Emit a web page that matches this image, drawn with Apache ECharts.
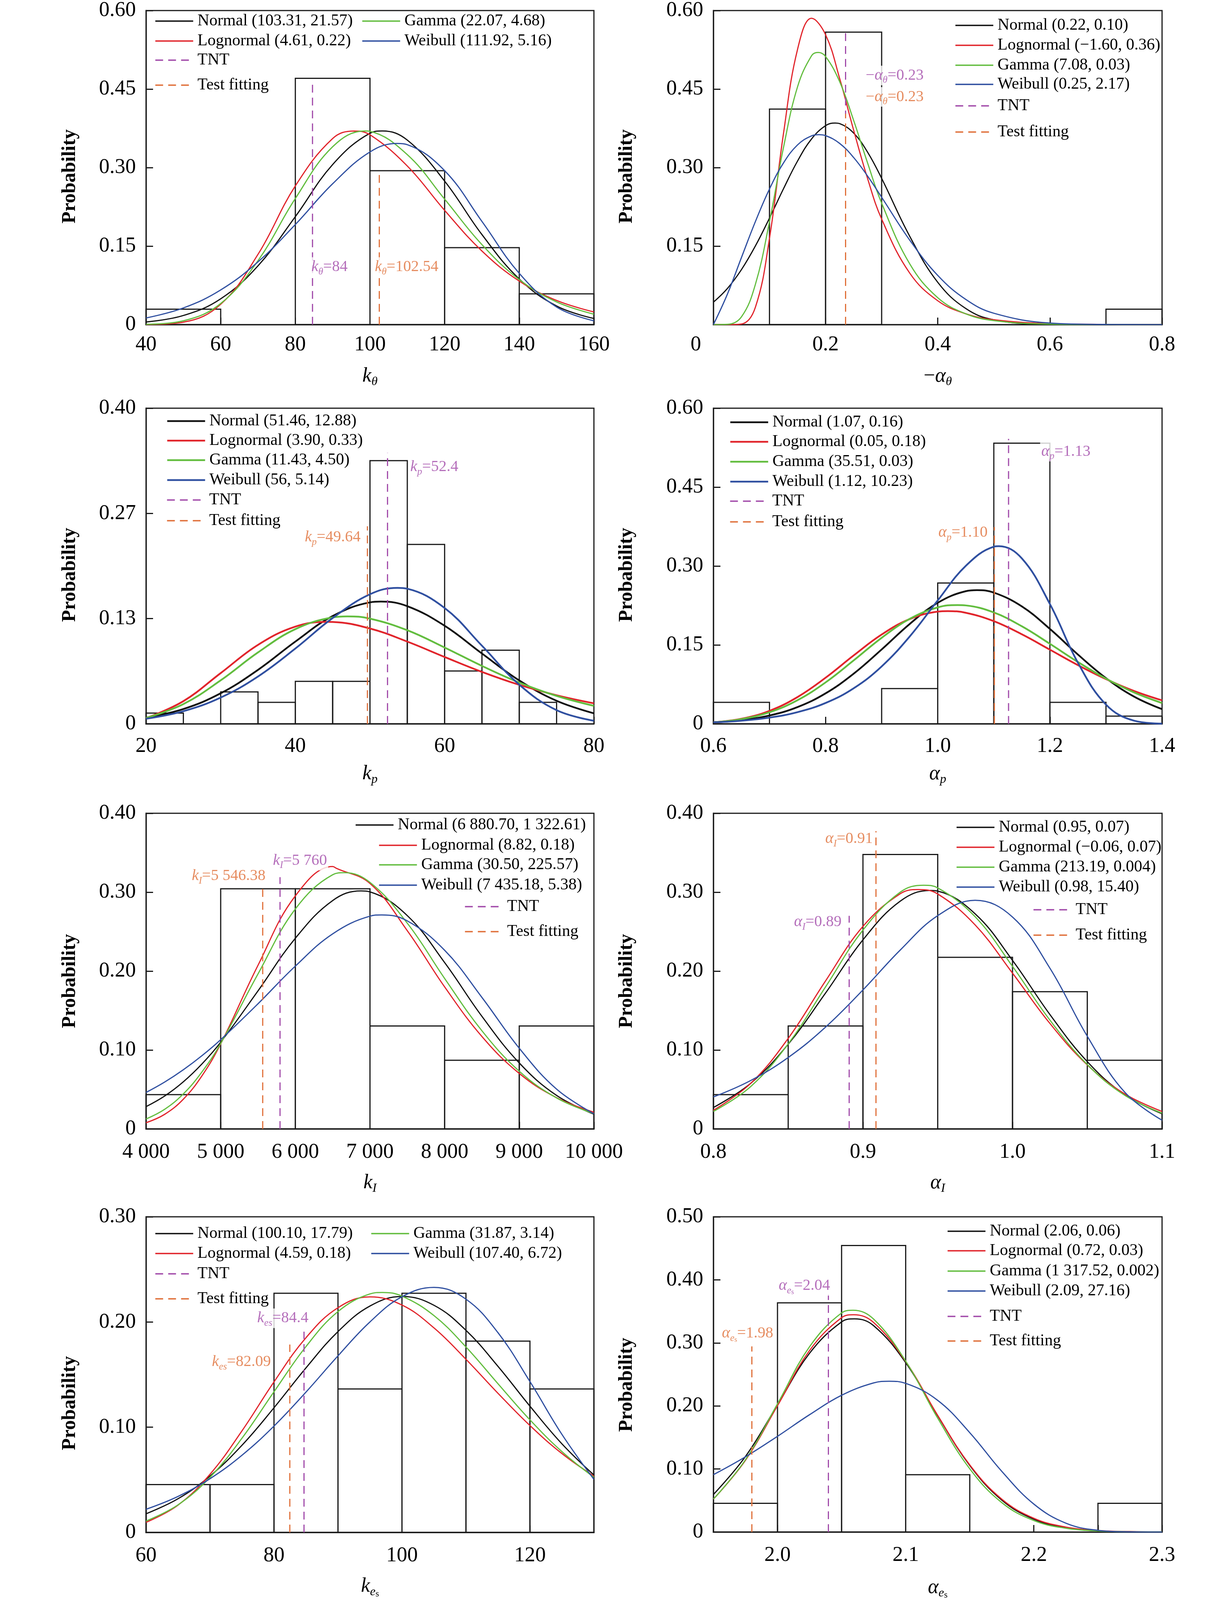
<!DOCTYPE html>
<html>
<head>
<meta charset="utf-8">
<script src="https://cdn.jsdelivr.net/npm/echarts@6/dist/echarts.min.js"></script>
<style>html,body{margin:0;padding:0;background:#fff;overflow:hidden}#c{width:3150px;height:4210px}</style>
</head>
<body>
<div id="c"></div>
<script>
// ================= DATA =================
// Panel 1: k_theta
const p1Edges = [40, 60, 80, 100, 120, 140, 160];
const p1Hist = [0.0294, 0, 0.4706, 0.2941, 0.1471, 0.0588];
const p1X = [40, 50, 60, 70, 80, 90, 100, 110, 120, 130, 140, 150, 160];
const p1Normal = [0.0050, 0.0174, 0.0493, 0.1123, 0.2063, 0.3058, 0.3656, 0.3525, 0.2742, 0.1720, 0.0871, 0.0355, 0.0117];
const p1Lognormal = [0.0001, 0.0047, 0.0388, 0.1343, 0.2650, 0.3555, 0.3626, 0.3030, 0.2183, 0.1406, 0.0832, 0.0461, 0.0242];
const p1Gamma = [0.0006, 0.0073, 0.0403, 0.1222, 0.2409, 0.3398, 0.3692, 0.3247, 0.2397, 0.1528, 0.0860, 0.0434, 0.0200];
const p1Weibull = [0.0127, 0.0318, 0.0662, 0.1198, 0.1912, 0.2691, 0.3299, 0.3438, 0.2941, 0.1971, 0.0979, 0.0336, 0.0073];
const p1Peaks = [[103.31, 0.3699], [95.74, 0.3698], [98.61, 0.3700], [107.34, 0.3461]];
const p1Names = ['Normal (103.31, 21.57)', 'Lognormal (4.61, 0.22)', 'Gamma (22.07, 4.68)', 'Weibull (111.92, 5.16)'];
const p1Tnt = [84.6, 0.46];
const p1Test = [102.5, 0.2925];

// Panel 2: -alpha_theta
const p2Edges = [0, 0.1, 0.2, 0.3, 0.4, 0.5, 0.6, 0.7, 0.8];
const p2Hist = [0, 0.4118, 0.5588, 0, 0, 0, 0, 0.0294];
const p2X = [0, 0.025, 0.05, 0.075, 0.1, 0.125, 0.15, 0.175, 0.2, 0.225, 0.25, 0.275, 0.3, 0.35, 0.4, 0.45, 0.5, 0.6, 0.7, 0.8];
const p2Normal = [0.0429, 0.0691, 0.1050, 0.1505, 0.2035, 0.2596, 0.3124, 0.3547, 0.3800, 0.3840, 0.3661, 0.3293, 0.2794, 0.1689, 0.0809, 0.0307, 0.0092, 0.0004, 0, 0];
const p2Lognormal = [0, 0, 0.0012, 0.0336, 0.1650, 0.3653, 0.5256, 0.5852, 0.5539, 0.4707, 0.3717, 0.2788, 0.2017, 0.0985, 0.0456, 0.0207, 0.0093, 0.0019, 0.0004, 0.0001];
const p2Gamma = [0, 0.0005, 0.0148, 0.0773, 0.1968, 0.3385, 0.4542, 0.5136, 0.5123, 0.4644, 0.3904, 0.3086, 0.2320, 0.1162, 0.0514, 0.0206, 0.0077, 0.0009, 0.0001, 0];
const p2Weibull = [0, 0.0583, 0.1281, 0.1972, 0.2591, 0.3089, 0.3433, 0.3606, 0.3610, 0.3463, 0.3193, 0.2837, 0.2433, 0.1615, 0.0940, 0.0481, 0.0217, 0.0030, 0.0003, 0];
const p2Peaks = [[0.217, 0.3851], null, [0.1867, 0.5199], [0.188, 0.3628]];
const p2Names = ['Normal (0.22, 0.10)', 'Lognormal (\u22121.60, 0.36)', 'Gamma (7.08, 0.03)', 'Weibull (0.25, 2.17)'];
const p2Tnt = [0.2357, 0.566];
const p2Test = [0.2357, 0.403];

// Panel 3: k_p
const p3Edges = [20, 25, 30, 35, 40, 45, 50, 55, 60, 65, 70, 75, 80];
const p3Hist = [0.0136, 0, 0.0405, 0.0272, 0.0538, 0.0538, 0.3336, 0.2274, 0.0670, 0.0933, 0.0272, 0];
const p3X = [20, 25, 30, 35, 40, 45, 50, 55, 60, 65, 70, 75, 80];
const p3Normal = [0.0078, 0.0188, 0.0387, 0.0684, 0.1042, 0.1366, 0.1539, 0.1491, 0.1243, 0.0891, 0.0550, 0.0292, 0.0133];
const p3Lognormal = [0.0071, 0.0287, 0.0643, 0.1001, 0.1232, 0.1291, 0.1208, 0.1042, 0.0847, 0.0658, 0.0494, 0.0362, 0.0260];
const p3Gamma = [0.0074, 0.0250, 0.0551, 0.0905, 0.1200, 0.1349, 0.1333, 0.1186, 0.0967, 0.0734, 0.0523, 0.0354, 0.0228];
const p3Weibull = [0.0064, 0.0160, 0.0333, 0.0600, 0.0954, 0.1341, 0.1642, 0.1712, 0.1468, 0.0990, 0.0496, 0.0173, 0.0039];
const p3Peaks = [[51.46, 0.1549], [44.30, 0.1292], [46.94, 0.1362], [53.69, 0.1723]];
const p3Names = ['Normal (51.46, 12.88)', 'Lognormal (3.90, 0.33)', 'Gamma (11.43, 4.50)', 'Weibull (56, 5.14)'];
const p3Tnt = [52.35, 0.3433];
const p3Test = [49.66, 0.2504];

// Panel 4: alpha_p
const p4Edges = [0.6, 0.7, 0.8, 0.9, 1.0, 1.1, 1.2, 1.3, 1.4];
const p4Hist = [0.0408, 0, 0, 0.0671, 0.2677, 0.5335, 0.0408, 0.0146];
const p4X = [0.6, 0.65, 0.7, 0.75, 0.8, 0.85, 0.9, 0.95, 1.0, 1.05, 1.1, 1.15, 1.2, 1.25, 1.3, 1.35, 1.4];
const p4Normal = [0.0029, 0.0071, 0.0158, 0.0318, 0.0579, 0.0952, 0.1414, 0.1898, 0.2301, 0.2521, 0.2495, 0.2232, 0.1804, 0.1317, 0.0869, 0.0518, 0.0279];
const p4Lognormal = [0.0029, 0.0096, 0.0247, 0.0509, 0.0876, 0.1299, 0.1697, 0.1991, 0.2133, 0.2111, 0.1952, 0.1702, 0.1410, 0.1116, 0.0850, 0.0625, 0.0446];
const p4Gamma = [0.0030, 0.0090, 0.0220, 0.0449, 0.0787, 0.1204, 0.1635, 0.1995, 0.2213, 0.2251, 0.2117, 0.1854, 0.1521, 0.1175, 0.0859, 0.0597, 0.0395];
const p4Weibull = [0.0029, 0.0060, 0.0118, 0.0222, 0.0396, 0.0675, 0.1091, 0.1660, 0.2345, 0.3003, 0.3367, 0.3144, 0.2278, 0.1162, 0.0366, 0.0060, 0.0004];
const p4Peaks = [[1.07, 0.2541], [1.0178, 0.2143], [1.0353, 0.2258], [1.1088, 0.3377]];
const p4Names = ['Normal (1.07, 0.16)', 'Lognormal (0.05, 0.18)', 'Gamma (35.51, 0.03)', 'Weibull (1.12, 10.23)'];
const p4Tnt = [1.1263, 0.5417];
const p4Test = [1.101, 0.374];

// Panel 5: k_I
const p5Edges = [4000, 5000, 6000, 7000, 8000, 9000, 10000];
const p5Hist = [0.0435, 0.3043, 0.3043, 0.1304, 0.0870, 0.1304];
const p5X = [4000, 4250, 4500, 4750, 5000, 5500, 6000, 6500, 7000, 7500, 8000, 8500, 9000, 9500, 10000];
const p5Normal = [0.0282, 0.0417, 0.0597, 0.0824, 0.1098, 0.1749, 0.2416, 0.2894, 0.3004, 0.2703, 0.2108, 0.1426, 0.0836, 0.0424, 0.0187];
const p5Lognormal = [0.0078, 0.0185, 0.0377, 0.0674, 0.1077, 0.2074, 0.2953, 0.3325, 0.3111, 0.2512, 0.1800, 0.1171, 0.0703, 0.0396, 0.0211];
const p5Gamma = [0.0126, 0.0249, 0.0444, 0.0723, 0.1083, 0.1964, 0.2787, 0.3221, 0.3124, 0.2607, 0.1907, 0.1243, 0.0731, 0.0393, 0.0194];
const p5Weibull = [0.0462, 0.0594, 0.0750, 0.0929, 0.1131, 0.1586, 0.2063, 0.2472, 0.2696, 0.2636, 0.2264, 0.1666, 0.1022, 0.0504, 0.0192];
const p5Peaks = [[6880.7, 0.3016], [6555.6, 0.3300], [6654.3, 0.3247], [7156.4, 0.2712]];
const p5Names = ['Normal (6 880.70, 1 322.61)', 'Lognormal (8.82, 0.18)', 'Gamma (30.50, 225.57)', 'Weibull (7 435.18, 5.38)'];
const p5Tnt = [5795, 0.319];
const p5Test = [5563, 0.306];

// Panel 6: alpha_I
const p6Edges = [0.8, 0.85, 0.9, 0.95, 1.0, 1.05, 1.1];
const p6Hist = [0.0435, 0.1304, 0.3478, 0.2174, 0.1739, 0.0870];
const p6X = [0.8, 0.825, 0.85, 0.875, 0.9, 0.925, 0.95, 0.975, 1.0, 1.025, 1.05, 1.075, 1.1];
const p6Normal = [0.0271, 0.0579, 0.1073, 0.1722, 0.2396, 0.2887, 0.3014, 0.2726, 0.2136, 0.1450, 0.0853, 0.0434, 0.0192];
const p6Lognormal = [0.0236, 0.0578, 0.1147, 0.1876, 0.2567, 0.2981, 0.2977, 0.2585, 0.1974, 0.1337, 0.0811, 0.0444, 0.0221];
const p6Gamma = [0.0221, 0.0538, 0.1077, 0.1800, 0.2520, 0.3001, 0.3054, 0.2689, 0.2060, 0.1379, 0.0816, 0.0427, 0.0200];
const p6Weibull = [0.0405, 0.0614, 0.0905, 0.1290, 0.1761, 0.2268, 0.2703, 0.2897, 0.2685, 0.2037, 0.1175, 0.0466, 0.0111];
const p6Peaks = [[0.945, 0.3022], [0.9372, 0.3033], [0.9406, 0.3088], null];
const p6Names = ['Normal (0.95, 0.07)', 'Lognormal (\u22120.06, 0.07)', 'Gamma (213.19, 0.004)', 'Weibull (0.98, 15.40)'];
const p6Tnt = [0.8908, 0.270];
const p6Test = [0.9087, 0.3773];

// Panel 7: k_es
const p7Edges = [60, 70, 80, 90, 100, 110, 120, 130];
const p7Hist = [0.0455, 0.0455, 0.2273, 0.1364, 0.2273, 0.1818, 0.1364];
const p7X = [60, 65, 70, 75, 80, 85, 90, 95, 100, 105, 110, 115, 120, 125, 130];
const p7Normal = [0.0177, 0.0320, 0.0536, 0.0829, 0.1185, 0.1564, 0.1909, 0.2152, 0.2243, 0.2159, 0.1921, 0.1579, 0.1200, 0.0842, 0.0546];
const p7Lognormal = [0.0096, 0.0260, 0.0553, 0.0966, 0.1431, 0.1851, 0.2136, 0.2239, 0.2161, 0.1944, 0.1646, 0.1323, 0.1016, 0.0750, 0.0535];
const p7Gamma = [0.0108, 0.0262, 0.0524, 0.0896, 0.1337, 0.1767, 0.2099, 0.2267, 0.2246, 0.2061, 0.1763, 0.1414, 0.1070, 0.0768, 0.0524];
const p7Weibull = [0.0220, 0.0342, 0.0511, 0.0734, 0.1011, 0.1334, 0.1678, 0.2001, 0.2240, 0.2329, 0.2217, 0.1899, 0.1434, 0.0932, 0.0505];
const p7Peaks = [null, null, [96.93, 0.2281], null];
const p7Names = ['Normal (100.10, 17.79)', 'Lognormal (4.59, 0.18)', 'Gamma (31.87, 3.14)', 'Weibull (107.40, 6.72)'];
const p7Tnt = [84.69, 0.1908];
const p7Test = [82.47, 0.1786];

// Panel 8: alpha_es
const p8Edges = [1.95, 2.0, 2.05, 2.1, 2.15, 2.2, 2.25, 2.3];
const p8Hist = [0.0455, 0.3636, 0.4545, 0.0909, 0, 0, 0.0455];
const p8X = [1.95, 1.975, 2.0, 2.025, 2.05, 2.075, 2.1, 2.125, 2.15, 2.175, 2.2, 2.225, 2.25, 2.275, 2.3];
const p8Normal = [0.0595, 0.1198, 0.2016, 0.2835, 0.3333, 0.3273, 0.2687, 0.1843, 0.1056, 0.0506, 0.0203, 0.0068, 0.0019, 0.0004, 0.0001];
const p8Lognormal = [0.0522, 0.1137, 0.2004, 0.2879, 0.3400, 0.3323, 0.2706, 0.1849, 0.1065, 0.0521, 0.0218, 0.0078, 0.0024, 0.0007, 0.0002];
const p8Gamma = [0.0523, 0.1146, 0.2034, 0.2939, 0.3475, 0.3377, 0.2711, 0.1806, 0.1003, 0.0466, 0.0182, 0.0060, 0.0017, 0.0004, 0.0001];
const p8Weibull = [0.0910, 0.1193, 0.1518, 0.1861, 0.2169, 0.2365, 0.2358, 0.2088, 0.1576, 0.0962, 0.0443, 0.0140, 0.0027, 0.0003, 0];
const p8Peaks = [[2.06, 0.3381], [2.0594, 0.3446], [2.0588, 0.3517], [2.0871, 0.2392]];
const p8Names = ['Normal (2.06, 0.06)', 'Lognormal (0.72, 0.03)', 'Gamma (1 317.52, 0.002)', 'Weibull (2.09, 27.16)'];
const p8Tnt = [2.0397, 0.3769];
const p8Test = [1.98, 0.2944];

// ================= LAYOUT / STYLE =================
// The figure is laid out for 3150x4210; if the visible viewport is shorter,
// all vertical positions are compressed so the whole figure stays visible.
const FULL_H = 4210;
const VIEW_H = Math.min(FULL_H, window.innerHeight || FULL_H);
const SY = VIEW_H / FULL_H;
document.getElementById('c').style.height = VIEW_H + 'px';

const FONT = 'Liberation Serif';
const COLORS = ['#111111', '#E1242B', '#62BD3E', '#2F4FA0'];
const TNT_COLOR = '#A24BAA';
const TEST_COLOR = '#E0703A';
const fmt2 = v => (v === 0 ? '0' : v.toFixed(2));
const fmt1 = v => v.toFixed(1);
const fmtInt = v => String(Math.round(v));
const fmtThousands = v => String(Math.round(v)).replace(/\B(?=(\d{3})+(?!\d))/g, ' ');

const panels = [
  { grid: [374, 24, 1147, 831], x: [40, 160, 20], y: [0, 0.6, 0.15], xFmt: fmtInt, yFmt: fmt2,
    xName: '{i|k}{s|\u03b8}', xNameGap: 104, yNameGap: 170, yNamePad: 46, xMargin: 26,
    edges: p1Edges, hist: p1Hist, xs: p1X, curves: [p1Normal, p1Lognormal, p1Gamma, p1Weibull], peaks: p1Peaks, names: p1Names,
    tnt: p1Tnt, test: p1Test, lw: 3,
    legend: [[396, 55], [396, 108], [926, 55], [926, 108], [396, 158], [396, 224]],
    labels: [{ at: [84.0, 0.110], side: 'right', c: TNT_COLOR, t: '{i|k}{s|\u03b8}{n|=84}' },
             { at: [101.0, 0.110], side: 'right', c: TEST_COLOR, t: '{i|k}{s|\u03b8}{n|=102.54}' }] },
  { grid: [1827, 24, 1149, 831], x: [0, 0.8, 0.2], y: [0, 0.6, 0.15], xFmt: v => (v === 0 ? '{z|0}' : v.toFixed(1)), yFmt: v => (v === 0 ? '' : v.toFixed(2)),
    xName: '{n|\u2212}{i|\u03b1}{s|\u03b8}', xNameGap: 104, yNameGap: 197, yNamePad: 46, xMargin: 26,
    edges: p2Edges, hist: p2Hist, xs: p2X, curves: [p2Normal, p2Lognormal, p2Gamma, p2Weibull], peaks: p2Peaks, names: p2Names,
    tnt: p2Tnt, test: p2Test, lw: 3,
    legend: [[2445, 67], [2445, 119], [2445, 172], [2445, 222], [2445, 279], [2445, 347]],
    labels: [{ at: [0.2695, 0.476], side: 'right', c: TNT_COLOR, t: '{n|\u2212}{i|\u03b1}{s|\u03b8}{n|=0.23}' },
             { at: [0.2695, 0.435], side: 'right', c: TEST_COLOR, t: '{n|\u2212}{i|\u03b1}{s|\u03b8}{n|=0.23}' }] },
  { grid: [374, 1074, 1147, 831], x: [20, 80, 20], y: [0, 0.4, 0.4 / 3], xFmt: fmtInt, yFmt: fmt2,
    xName: '{i|k}{s|p}', xNameGap: 100, yNameGap: 170, yNamePad: 46, xMargin: 32,
    edges: p3Edges, hist: p3Hist, xs: p3X, curves: [p3Normal, p3Lognormal, p3Gamma, p3Weibull], peaks: p3Peaks, names: p3Names,
    tnt: p3Tnt, test: p3Test, lw: 4.5,
    legend: [[426, 1108], [426, 1159], [426, 1211], [426, 1263], [426, 1316], [426, 1370]],
    labels: [{ at: [55.25, 0.3255], side: 'right', c: TNT_COLOR, t: '{i|k}{s|p}{n|=52.4}' },
             { at: [48.9, 0.2364], side: 'left', c: TEST_COLOR, t: '{i|k}{s|p}{n|=49.64}' }] },
  { grid: [1827, 1074, 1149, 831], x: [0.6, 1.4, 0.2], y: [0, 0.6, 0.15], xFmt: fmt1, yFmt: fmt2,
    xName: '{i|\u03b1}{s|p}', xNameGap: 100, yNameGap: 197, yNamePad: 46, xMargin: 32,
    edges: p4Edges, hist: p4Hist, xs: p4X, curves: [p4Normal, p4Lognormal, p4Gamma, p4Weibull], peaks: p4Peaks, names: p4Names,
    tnt: p4Tnt, test: p4Test, lw: 4.5,
    legend: [[1868, 1111], [1868, 1162], [1868, 1215], [1868, 1267], [1868, 1319], [1868, 1373]],
    labels: [{ at: [1.1826, 0.5175], side: 'right', c: TNT_COLOR, t: '{i|\u03b1}{s|p}{n|=1.13}' },
             { at: [1.091, 0.3634], side: 'left', c: TEST_COLOR, t: '{i|\u03b1}{s|p}{n|=1.10}' }] },
  { grid: [374, 2140, 1147, 830], x: [4000, 10000, 1000], y: [0, 0.4, 0.1], xFmt: fmtThousands, yFmt: fmt2,
    xName: '{i|k}{s|I}', xNameGap: 110, yNameGap: 170, yNamePad: 52, xMargin: 34,
    edges: p5Edges, hist: p5Hist, xs: p5X, curves: [p5Normal, p5Lognormal, p5Gamma, p5Weibull], peaks: p5Peaks, names: p5Names,
    tnt: p5Tnt, test: p5Test, lw: 3,
    legend: [[909, 2171], [969, 2224], [969, 2276], [969, 2329], [1189, 2386], [1189, 2451]],
    labels: [{ at: [5684, 0.340], side: 'right', c: TNT_COLOR, t: '{i|k}{s|I}{n|=5 760}' },
             { at: [5616, 0.3205], side: 'left', c: TEST_COLOR, t: '{i|k}{s|I}{n|=5 546.38}' }] },
  { grid: [1827, 2140, 1149, 830], x: [0.8, 1.1, 0.1], y: [0, 0.4, 0.1], xFmt: fmt1, yFmt: fmt2,
    xName: '{i|\u03b1}{s|I}', xNameGap: 110, yNameGap: 197, yNamePad: 52, xMargin: 34,
    edges: p6Edges, hist: p6Hist, xs: p6X, curves: [p6Normal, p6Lognormal, p6Gamma, p6Weibull], peaks: p6Peaks, names: p6Names,
    tnt: p6Tnt, test: p6Test, lw: 3,
    legend: [[2448, 2177], [2448, 2229], [2448, 2282], [2448, 2334], [2645, 2394], [2645, 2461]],
    labels: [{ at: [0.8865, 0.262], side: 'left', c: TNT_COLOR, t: '{i|\u03b1}{s|I}{n|=0.89}' },
             { at: [0.9074, 0.3676], side: 'left', c: TEST_COLOR, t: '{i|\u03b1}{s|I}{n|=0.91}' }] },
  { grid: [374, 3202, 1147, 831], x: [60, 130, 20], y: [0, 0.3, 0.1], xFmt: fmtInt, yFmt: fmt2, hideMax: true,
    xName: '{i|k}{s|e}{ss|s}', xNameGap: 110, yNameGap: 170, yNamePad: 150, xMargin: 34,
    edges: p7Edges, hist: p7Hist, xs: p7X, curves: [p7Normal, p7Lognormal, p7Gamma, p7Weibull], peaks: p7Peaks, names: p7Names,
    tnt: p7Tnt, test: p7Test, lw: 3,
    legend: [[396, 3246], [396, 3298], [949, 3246], [949, 3298], [396, 3352], [396, 3418]],
    labels: [{ at: [77.2, 0.2036], side: 'right', c: TNT_COLOR, t: '{i|k}{s|es}{n|=84.4}' },
             { at: [79.7, 0.1619], side: 'left', c: TEST_COLOR, t: '{i|k}{s|es}{n|=82.09}' }] },
  { grid: [1827, 3202, 1149, 831], x: [1.95, 2.3, 0.05], y: [0, 0.5, 0.1],
    xFmt: v => (v > 1.96 && Math.abs(v * 10 - Math.round(v * 10)) < 1e-6 ? v.toFixed(1) : ''), yFmt: fmt2,
    xName: '{i|\u03b1}{s|e}{ss|s}', xNameGap: 114, yNameGap: 197, yNamePad: 54, xMargin: 34,
    edges: p8Edges, hist: p8Hist, xs: p8X, curves: [p8Normal, p8Lognormal, p8Gamma, p8Weibull], peaks: p8Peaks, names: p8Names,
    tnt: p8Tnt, test: p8Test, lw: 3,
    legend: [[2425, 3240], [2425, 3291], [2425, 3345], [2425, 3397], [2425, 3464], [2425, 3529]],
    labels: [{ at: [2.0, 0.3904], side: 'right', c: TNT_COLOR, t: '{i|\u03b1}{s|e}{ss|s}{n|=2.04}' },
             { at: [1.9557, 0.3148], side: 'right', c: TEST_COLOR, t: '{i|\u03b1}{s|e}{ss|s}{n|=1.98}' }] }
];

function richFor(color, base) {
  return {
    i: { fontFamily: FONT, fontStyle: 'italic', fontSize: base, lineHeight: base + 10, color: color },
    n: { fontFamily: FONT, fontSize: base, lineHeight: base + 10, color: color },
    s: { fontFamily: FONT, fontStyle: 'italic', fontSize: Math.round(base * 0.62), lineHeight: Math.round(base * 0.45), verticalAlign: 'bottom', color: color },
    ss: { fontFamily: FONT, fontSize: Math.round(base * 0.45), lineHeight: 2, verticalAlign: 'bottom', color: color },
    z: { fontFamily: FONT, fontSize: base, color: color, padding: [0, 90, 0, 0] }
  };
}

function curveData(xs, ys, peak) {
  const pts = xs.map((x, i) => [x, ys[i]]);
  if (peak) { pts.push(peak); pts.sort((a, b) => a[0] - b[0]); }
  return pts;
}

const grids = [], xAxes = [], yAxes = [], series = [], legends = [];
const FRAME = '#1a1a1a';

panels.forEach((p, k) => {
  grids.push({ left: p.grid[0], top: Math.round(p.grid[1] * SY), width: p.grid[2], height: Math.round(p.grid[3] * SY), show: true,
    borderColor: FRAME, borderWidth: 3, backgroundColor: 'transparent', containLabel: false });
  const axisCommon = {
    gridIndex: k, type: 'value',
    axisLine: { show: true, onZero: false, lineStyle: { color: FRAME, width: 3 } },
    axisTick: { show: true, inside: true, length: 18, lineStyle: { color: FRAME, width: 3 } },
    splitLine: { show: false }
  };
  xAxes.push(Object.assign({}, axisCommon, {
    min: p.x[0], max: p.x[1], interval: p.x[2],
    axisLabel: { fontFamily: FONT, fontSize: 54, color: '#000', margin: Math.round(p.xMargin * SY), formatter: p.xFmt,
      showMaxLabel: !p.hideMax, rich: richFor('#000', 54) },
    name: p.xName, nameLocation: 'middle', nameGap: Math.round(p.xNameGap * SY),
    nameTextStyle: { rich: richFor('#000', 52) }
  }));
  yAxes.push(Object.assign({}, axisCommon, {
    min: p.y[0], max: p.y[1], interval: p.y[2],
    axisLabel: { fontFamily: FONT, fontSize: 54, color: '#000', margin: 26, formatter: p.yFmt },
    name: 'Probability', nameLocation: 'middle', nameGap: p.yNameGap,
    nameTextStyle: { fontFamily: FONT, fontSize: 50, fontWeight: 'bold', color: '#000', padding: [0, Math.round(p.yNamePad * SY), 0, 0] }
  }));

  // histogram (outlined bins)
  const bins = [];
  p.hist.forEach((h, i) => { if (h > 0) bins.push([p.edges[i], p.edges[i + 1], h]); });
  series.push({
    type: 'custom', xAxisIndex: k, yAxisIndex: k, data: bins, z: 2, silent: true,
    encode: { x: [0, 1], y: 2 },
    renderItem: (params, api) => {
      const a = api.coord([api.value(0), api.value(2)]);
      const b = api.coord([api.value(1), 0]);
      return { type: 'rect', shape: { x: a[0], y: a[1], width: b[0] - a[0], height: b[1] - a[1] },
        style: { fill: 'none', stroke: FRAME, lineWidth: 3 } };
    }
  });

  // fitted curves
  p.curves.forEach((ys, j) => {
    series.push({
      type: 'line', name: p.names[j], xAxisIndex: k, yAxisIndex: k,
      data: curveData(p.xs, ys, p.peaks[j]), smooth: 0.4, symbol: 'none', z: 3 + j * 0.1,
      lineStyle: { color: COLORS[j], width: p.lw }, itemStyle: { color: COLORS[j] }, silent: true
    });
  });

  // TNT and Test fitting vertical dashed lines
  series.push({ type: 'line', name: 'TNT', xAxisIndex: k, yAxisIndex: k, symbol: 'none', z: 4, silent: true,
    data: [[p.tnt[0], 0], [p.tnt[0], p.tnt[1]]],
    lineStyle: { color: TNT_COLOR, width: 3, type: [20, 13] }, itemStyle: { color: TNT_COLOR } });
  series.push({ type: 'line', name: 'Test fitting', xAxisIndex: k, yAxisIndex: k, symbol: 'none', z: 4.1, silent: true,
    data: [[p.test[0], 0], [p.test[0], p.test[1]]],
    lineStyle: { color: TEST_COLOR, width: 3, type: [20, 13] }, itemStyle: { color: TEST_COLOR } });

  // value annotations
  series.push({
    type: 'scatter', xAxisIndex: k, yAxisIndex: k, symbolSize: 0, z: 6, silent: true,
    data: p.labels.map(l => ({
      value: l.at,
      label: { show: true, position: l.side, distance: 0, formatter: l.t, rich: richFor(l.c, 40),
        backgroundColor: '#fff', padding: [0, 3, 0, 3] }
    }))
  });

  // legend (one component per entry, so rows/columns match the figure)
  const legendNames = [p.names[0], p.names[1], p.names[2], p.names[3], 'TNT', 'Test fitting'];
  legendNames.forEach((nm, j) => {
    legends.push({
      data: [nm], left: p.legend[j][0], top: Math.round(p.legend[j][1] * SY) - 22, padding: 0, orient: 'horizontal',
      itemWidth: 97, itemHeight: 2, itemGap: 0, selectedMode: false, z: 8,
      lineStyle: { width: j < 4 ? Math.max(p.lw, 3.5) : 3.5 },
      textStyle: { fontFamily: FONT, fontSize: 42, lineHeight: 44, color: '#000', padding: [0, 0, 0, 6] }
    });
  });
});

const chart = echarts.init(document.getElementById('c'), null, { renderer: 'canvas' });
chart.setOption({
  backgroundColor: '#ffffff',
  animation: false,
  grid: grids, xAxis: xAxes, yAxis: yAxes, series: series, legend: legends
});
</script>
</body>
</html>
